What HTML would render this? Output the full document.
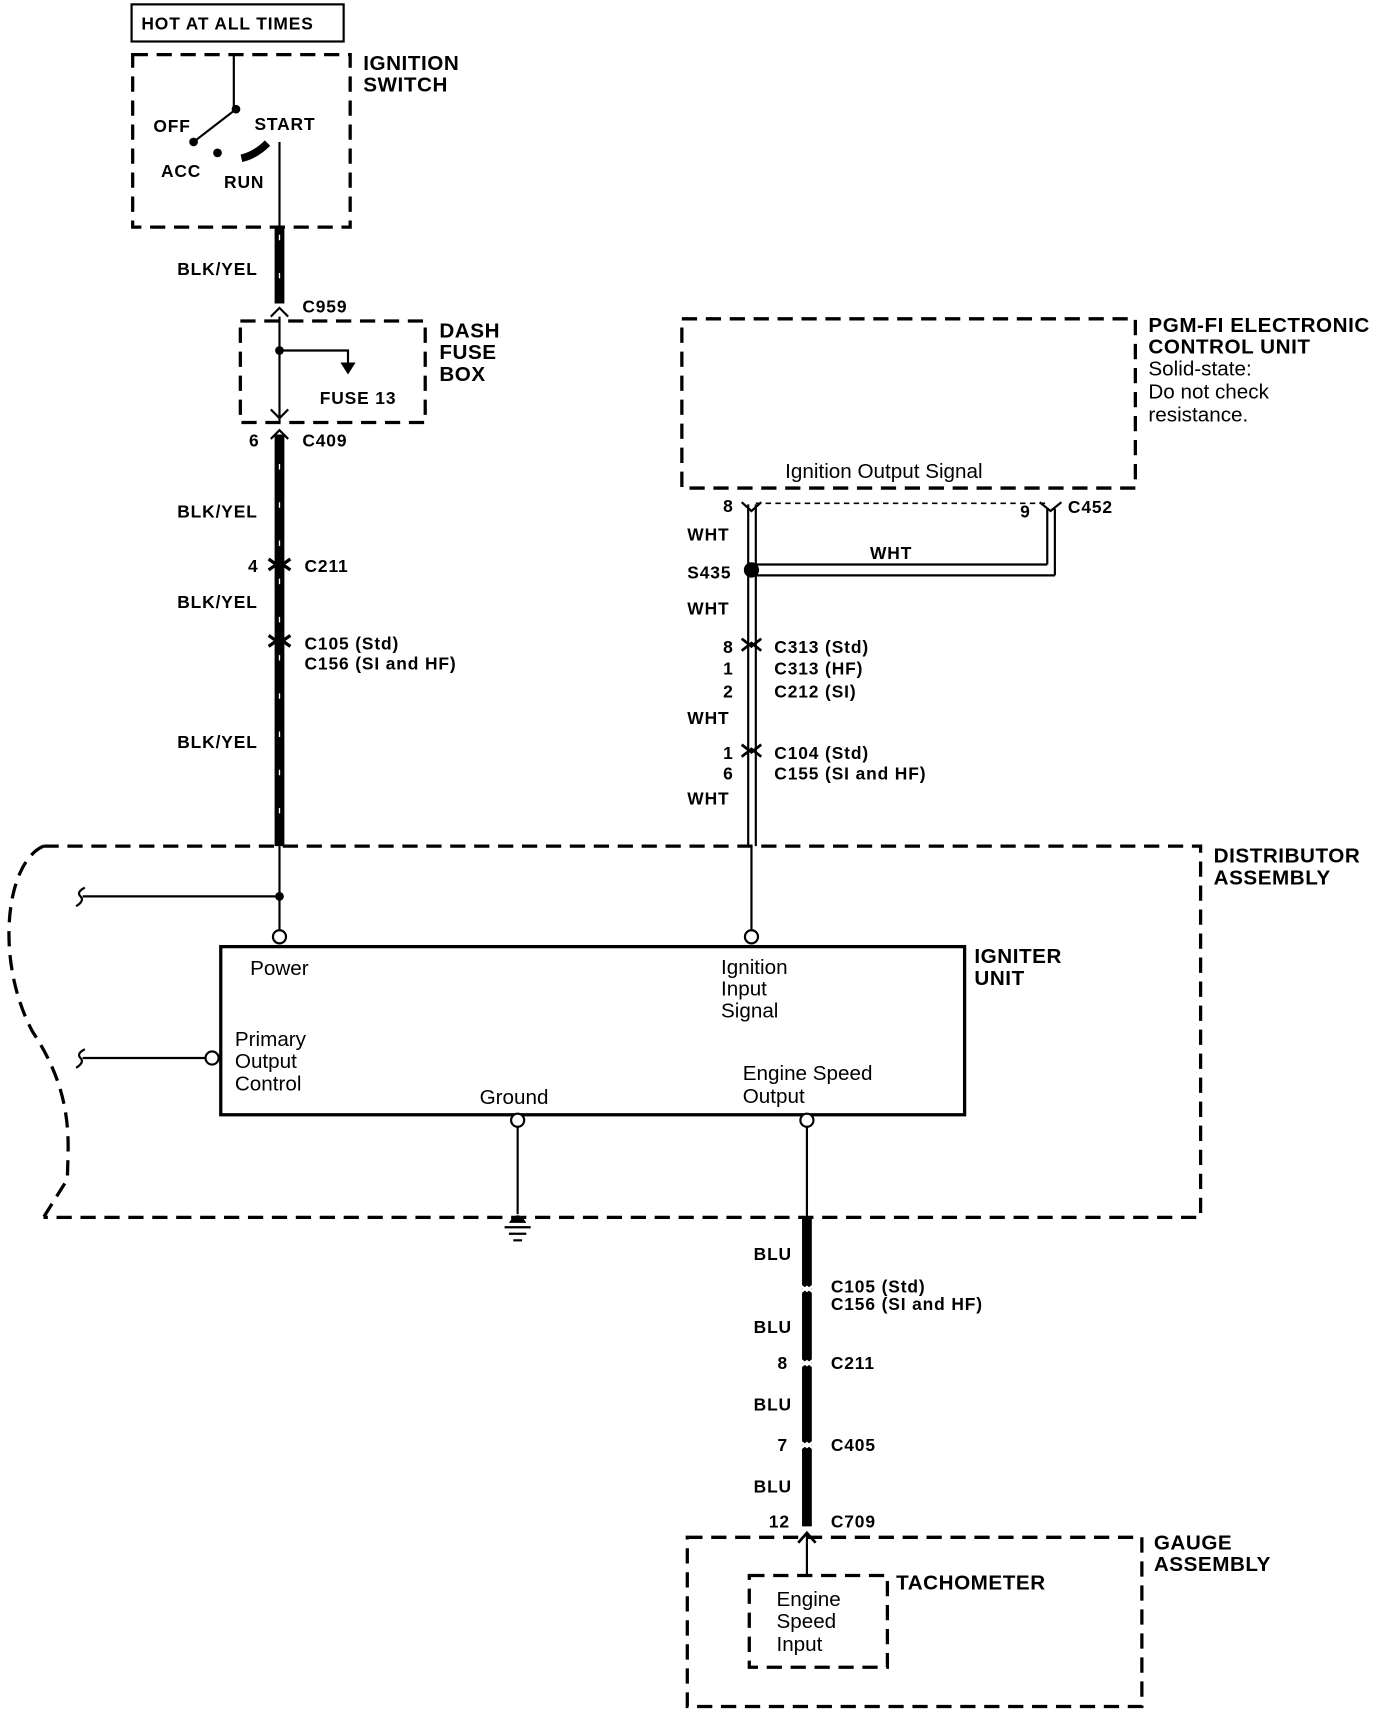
<!DOCTYPE html>
<html><head><meta charset="utf-8"><style>
html,body{margin:0;padding:0;background:#fff}
svg{display:block}
text{font-family:"Liberation Sans",Arial,sans-serif;fill:#000}
.b{font-weight:bold;font-size:16px;letter-spacing:0.8px}
.t{font-weight:bold;font-size:19px;letter-spacing:0.5px}
.r{font-size:19px}
.d{fill:none;stroke:#000;stroke-width:3;stroke-dasharray:14,8}
.w{stroke:#000;stroke-width:2;fill:none}
.k{stroke:#000;stroke-width:9;fill:none}
.m{stroke:#fff;stroke-width:1.2;stroke-dasharray:5,30;fill:none}
</style></head><body>
<svg width="1392" height="1712" viewBox="0 0 1280 1568" preserveAspectRatio="none">
<rect x="121" y="4" width="195" height="34" fill="none" stroke="#000" stroke-width="2"/>
<text class="b" x="130" y="27">HOT AT ALL TIMES</text>
<rect class="d" x="122" y="50" width="200" height="158"/>
<text class="t" x="334" y="64">IGNITION</text><text class="t" x="334" y="84">SWITCH</text>
<line class="w" x1="215" y1="50" x2="215" y2="100"/>
<circle cx="217" cy="100" r="4"/>
<line class="w" x1="217" y1="100" x2="178" y2="130" stroke-width="3"/>
<circle cx="178" cy="130" r="4"/>
<circle cx="200" cy="140" r="4"/>
<path d="M222 145 Q235 142 246 131" stroke="#000" stroke-width="7" fill="none"/>
<text class="b" x="141" y="121">OFF</text>
<text class="b" x="234" y="119">START</text>
<text class="b" x="148" y="162">ACC</text>
<text class="b" x="206" y="172">RUN</text>
<line class="w" x1="257" y1="130" x2="257" y2="208"/>
<line class="k" x1="257" y1="208" x2="257" y2="278"/>
<line class="k" x1="257" y1="398" x2="257" y2="775"/>
<line class="m" x1="257" y1="215" x2="257" y2="775"/>
<text class="b" x="163" y="252">BLK/YEL</text>
<path class="w" d="M249 290 L257 282 L265 290" stroke-width="3"/>
<text class="b" x="278" y="286">C959</text>
<rect class="d" x="221" y="294" width="170" height="93"/>
<text class="t" x="404" y="309">DASH</text><text class="t" x="404" y="329">FUSE</text><text class="t" x="404" y="349">BOX</text>
<line class="w" x1="257" y1="290" x2="257" y2="387"/>
<circle cx="257" cy="321" r="4"/>
<polyline class="w" points="257,321 320,321 320,335"/>
<path d="M313 332 L327 332 L320 343 Z"/>
<text class="b" x="294" y="370">FUSE 13</text>
<path class="w" d="M249 375 L257 383 L265 375" stroke-width="2"/>
<path class="w" d="M249 402 L257 394 L265 402" stroke-width="3"/>
<text class="b" x="229" y="409">6</text><text class="b" x="278" y="409">C409</text>
<text class="b" x="163" y="474">BLK/YEL</text>
<path d="M247 512 L257 519 L267 512 M247 522 L257 515 L267 522" stroke="#000" stroke-width="3" fill="none"/>
<text class="b" x="228" y="524">4</text><text class="b" x="280" y="524">C211</text>
<text class="b" x="163" y="557">BLK/YEL</text>
<path d="M247 582 L257 589 L267 582 M247 592 L257 585 L267 592" stroke="#000" stroke-width="3" fill="none"/>
<text class="b" x="280" y="595">C105 (Std)</text><text class="b" x="280" y="613">C156 (SI and HF)</text>
<text class="b" x="163" y="685">BLK/YEL</text>
<rect class="d" x="627" y="292" width="417" height="155"/>
<text class="t" x="1056" y="304">PGM-FI ELECTRONIC</text>
<text class="t" x="1056" y="324">CONTROL UNIT</text>
<text class="r" x="1056" y="344">Solid-state:</text>
<text class="r" x="1056" y="365">Do not check</text>
<text class="r" x="1056" y="386">resistance.</text>
<text class="r" x="722" y="438">Ignition Output Signal</text>
<line x1="695" y1="461" x2="962" y2="461" stroke="#000" stroke-width="1.5" stroke-dasharray="5,4"/>
<line class="w" x1="688" y1="462" x2="688" y2="775"/><line class="w" x1="695" y1="462" x2="695" y2="775"/>
<path d="M682 460 L691 468 L700 460" stroke="#000" stroke-width="2" fill="none"/>
<path d="M956 460 L966 468 L976 460" stroke="#000" stroke-width="2" fill="none"/>
<line class="w" x1="963" y1="466" x2="963" y2="517"/><line class="w" x1="970" y1="466" x2="970" y2="527"/>
<line class="w" x1="695" y1="517" x2="963" y2="517"/><line class="w" x1="695" y1="527" x2="970" y2="527"/>
<circle cx="691" cy="522" r="7"/>
<text class="b" x="665" y="469">8</text><text class="b" x="938" y="474">9</text><text class="b" x="982" y="470">C452</text>
<text class="b" x="632" y="495">WHT</text><text class="b" x="800" y="512">WHT</text>
<text class="b" x="632" y="530">S435</text><text class="b" x="632" y="563">WHT</text>
<path d="M682 585 L691 592 L700 585 M682 596 L691 589 L700 596" stroke="#000" stroke-width="2.5" fill="none"/>
<text class="b" x="665" y="598">8</text><text class="b" x="712" y="598">C313  (Std)</text>
<text class="b" x="665" y="618">1</text><text class="b" x="712" y="618">C313  (HF)</text>
<text class="b" x="665" y="639">2</text><text class="b" x="712" y="639">C212  (SI)</text>
<text class="b" x="632" y="663">WHT</text>
<path d="M682 682 L691 689 L700 682 M682 693 L691 686 L700 693" stroke="#000" stroke-width="2.5" fill="none"/>
<text class="b" x="665" y="695">1</text><text class="b" x="712" y="695">C104  (Std)</text>
<text class="b" x="665" y="714">6</text><text class="b" x="712" y="714">C155  (SI and HF)</text>
<text class="b" x="632" y="737">WHT</text>
<line class="w" x1="691" y1="775" x2="691" y2="852"/>
<circle cx="691" cy="858" r="6" fill="#fff" stroke="#000" stroke-width="2"/>
<path class="d" d="M40 775 L1104 775 L1104 1115 L40 1115 M40 775 C5 790 -5 880 30 945 C70 1005 62 1050 62 1080 L40 1115"/>
<text class="t" x="1116" y="790">DISTRIBUTOR</text><text class="t" x="1116" y="810">ASSEMBLY</text>
<line class="w" x1="257" y1="775" x2="257" y2="852"/>
<circle cx="257" cy="821" r="4"/>
<line class="w" x1="76" y1="821" x2="257" y2="821"/>
<path d="M78 813 Q70 817 74 821 Q78 825 70 830" stroke="#000" stroke-width="2" fill="none"/>
<circle cx="257" cy="858" r="6" fill="#fff" stroke="#000" stroke-width="2"/>
<rect x="203" y="867" width="684" height="154" fill="none" stroke="#000" stroke-width="3"/>
<text class="t" x="896" y="882">IGNITER</text><text class="t" x="896" y="902">UNIT</text>
<text class="r" x="230" y="893">Power</text>
<text class="r" x="663" y="892">Ignition</text><text class="r" x="663" y="912">Input</text><text class="r" x="663" y="932">Signal</text>
<text class="r" x="216" y="958">Primary</text><text class="r" x="216" y="978">Output</text><text class="r" x="216" y="999">Control</text>
<text class="r" x="441" y="1011">Ground</text>
<text class="r" x="683" y="989">Engine Speed</text><text class="r" x="683" y="1010">Output</text>
<circle cx="195" cy="969" r="6" fill="#fff" stroke="#000" stroke-width="2"/>
<line class="w" x1="76" y1="969" x2="189" y2="969"/>
<path d="M78 961 Q70 965 74 969 Q78 973 70 978" stroke="#000" stroke-width="2" fill="none"/>
<circle cx="476" cy="1026" r="6" fill="#fff" stroke="#000" stroke-width="2"/>
<line class="w" x1="476" y1="1032" x2="476" y2="1112"/>
<path d="M468 1120 Q476 1106 484 1120 Z"/>
<line class="w" x1="464" y1="1124" x2="488" y2="1124"/><line class="w" x1="468" y1="1130" x2="484" y2="1130"/><line class="w" x1="472" y1="1136" x2="480" y2="1136"/>
<circle cx="742" cy="1026" r="6" fill="#fff" stroke="#000" stroke-width="2"/>
<line class="w" x1="742" y1="1032" x2="742" y2="1115"/>
<line class="k" x1="742" y1="1115" x2="742" y2="1398"/>
<text class="b" x="693" y="1154">BLU</text>
<path d="M733 1175 L742 1182 L751 1175 M733 1186 L742 1179 L751 1186" stroke="#fff" stroke-width="2.5" fill="none"/>
<text class="b" x="764" y="1184">C105 (Std)</text><text class="b" x="764" y="1200">C156 (SI and HF)</text>
<text class="b" x="693" y="1221">BLU</text>
<path d="M733 1243 L742 1250 L751 1243 M733 1254 L742 1247 L751 1254" stroke="#fff" stroke-width="2.5" fill="none"/>
<text class="b" x="715" y="1254">8</text><text class="b" x="764" y="1254">C211</text>
<text class="b" x="693" y="1292">BLU</text>
<path d="M733 1318 L742 1325 L751 1318 M733 1329 L742 1322 L751 1329" stroke="#fff" stroke-width="2.5" fill="none"/>
<text class="b" x="715" y="1329">7</text><text class="b" x="764" y="1329">C405</text>
<text class="b" x="693" y="1367">BLU</text>
<text class="b" x="707" y="1399">12</text><text class="b" x="764" y="1399">C709</text>
<path d="M734 1413 L742 1404 L750 1413" stroke="#000" stroke-width="2.5" fill="none"/>
<line class="w" x1="742" y1="1404" x2="742" y2="1443"/>
<rect class="d" x="632" y="1408" width="418" height="155"/>
<text class="t" x="1061" y="1419">GAUGE</text><text class="t" x="1061" y="1439">ASSEMBLY</text>
<rect class="d" x="689" y="1443" width="127" height="84"/>
<text class="t" x="824" y="1456">TACHOMETER</text>
<text class="r" x="714" y="1471">Engine</text><text class="r" x="714" y="1491">Speed</text><text class="r" x="714" y="1512">Input</text>
</svg>
</body></html>
